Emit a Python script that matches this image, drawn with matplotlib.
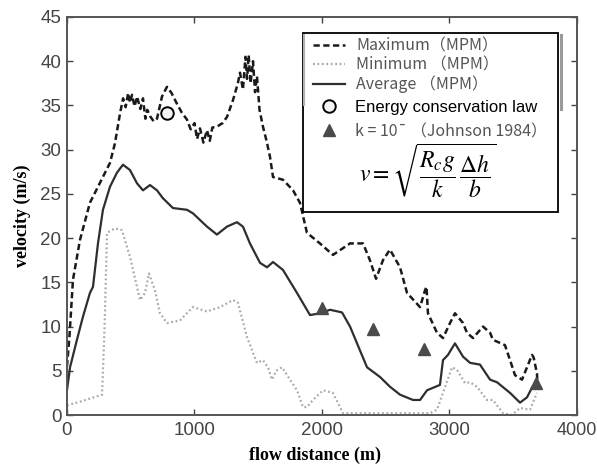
import matplotlib
matplotlib.use("Agg")
import matplotlib.pyplot as plt
from matplotlib.lines import Line2D
from matplotlib.patches import Rectangle

plt.rcParams['mathtext.fontset'] = 'stix'

# Maximum (MPM) - dashed
max_x = [0, 20, 47, 102, 180, 250, 337, 376, 416, 440, 460, 480, 494, 510, 530, 550, 575, 596,
         615, 630, 651, 680, 706, 745, 784, 820, 862, 900, 941, 970, 1000, 1020, 1043, 1070,
         1098, 1120, 1140, 1176, 1220, 1255, 1302, 1340, 1357, 1380, 1400, 1412, 1425, 1440,
         1459, 1475, 1490, 1510, 1537, 1565, 1592, 1616, 1694, 1773, 1827, 1882, 1984, 2086,
         2220, 2322, 2376, 2424, 2478, 2533, 2612, 2667, 2769, 2808, 2820, 2831, 2902, 2949,
         3004, 3043, 3106, 3137, 3184, 3263, 3318, 3341, 3435, 3475, 3514, 3569, 3608, 3647,
         3660, 3686, 3690]
max_v = [5.5, 9, 15.3, 19.8, 24, 26, 28.5, 30.7, 34.1, 35.8, 34.8, 36.4, 35.3, 36.2, 34.9, 36,
         34.6, 35.8, 33.5, 34.5, 33.8, 33.2, 33.5, 36, 37.1, 36.4, 35.2, 34.2, 33.4, 32.3, 33,
         31.2, 32.4, 30.8, 32.2, 31, 32.5, 32.6, 33, 33.7, 35.6, 37.5, 38.7, 36.8, 40.5, 38,
         40.7, 37.5, 40, 36.5, 38.3, 34.5, 32.6, 31, 29.2, 26.9, 26.6, 25.4, 24, 20.6, 19.4,
         18.1, 19.4, 19.4, 17.5, 15.4, 17.5, 18.7, 16.7, 13.8, 12.2, 14.1, 14.5, 11.5, 9.3,
         8.7, 10.4, 11.5, 10.4, 9.3, 8.7, 10, 9.3, 8.5, 7.9, 6.2, 4.5, 4.0, 5.4, 6.8, 6.5,
         4.7, 3.5]

# Minimum (MPM) - dotted
min_x = [0, 102, 275, 295, 314, 376, 431, 494, 573, 612, 643, 690, 729, 784, 886, 988, 1098,
         1200, 1302, 1341, 1412, 1490, 1537, 1576, 1608, 1640, 1686, 1749, 1804, 1851, 1882,
         1929, 2008, 2086, 2165, 2500, 2847, 2902, 2949, 3020, 3059, 3122, 3161, 3216, 3294,
         3341, 3420, 3490, 3553, 3631, 3686]
min_v = [1.1, 1.5, 2.3, 10, 20.6, 21.1, 20.9, 17.9, 13, 13.8, 16.0, 14.1, 11.5, 10.4, 10.7,
         12.2, 11.7, 12.2, 13, 12.7, 8.8, 5.9, 6.2, 5.4, 4.0, 5.0, 5.4, 4.0, 2.8, 0.9, 0.9,
         1.7, 2.8, 2.5, 0.2, 0.2, 0.2, 0.6, 2.5, 5.4, 5.1, 3.6, 3.7, 3.2, 1.7, 1.7, 0.2, 0.0,
         0.8, 0.6, 2.5]

# Average (MPM) - solid
avg_x = [0, 24, 78, 125, 180, 204, 243, 282, 337, 392, 439, 494, 549, 596, 651, 706, 753, 831,
         941, 988, 1098, 1176, 1255, 1333, 1380, 1435, 1514, 1569, 1616, 1694, 1804, 1906,
         1984, 2063, 2157, 2220, 2298, 2353, 2455, 2533, 2612, 2714, 2769, 2824, 2925, 2949,
         2988, 3043, 3106, 3161, 3239, 3318, 3373, 3475, 3553, 3608, 3647, 3686]
avg_v = [2.8, 5.4, 8.5, 11.1, 13.8, 14.5, 19.4, 23.2, 25.8, 27.4, 28.3, 27.7, 26.2, 25.4, 26,
         25.4, 24.5, 23.4, 23.2, 22.8, 21.3, 20.4, 21.3, 21.8, 21.3, 19.4, 17.2, 16.7, 17.3,
         16.4, 13.8, 11.3, 11.5, 11.9, 11.6, 10.0, 7.3, 5.4, 4.3, 3.2, 2.3, 1.7, 1.7, 2.8, 3.4,
         6.2, 6.8, 8.1, 6.6, 5.9, 5.7, 4.0, 3.7, 2.5, 1.4, 2.0, 3.1, 3.6]

# Energy conservation law
energy_x = [784]
energy_v = [34.1]

# k = 10^- (Johnson 1984)
johnson_x = [2000, 2400, 2800, 3680]
johnson_v = [12.1, 9.7, 7.5, 3.6]

fig = plt.figure(figsize=(5.97, 4.69), dpi=100)
ax = fig.add_axes([0.1122, 0.1151, 0.8543, 0.8487])

ax.plot(max_x, max_v, color='#1a1a1a', lw=1.8, ls=(0, (2.5, 1.4)))
ax.plot(min_x, min_v, color='#a8a8a8', lw=1.6, ls=(0, (0.8, 1.2)))
ax.plot(avg_x, avg_v, color='#2e2e2e', lw=1.6)
ax.plot(energy_x, energy_v, ls='none', marker='o', ms=9, mfc='#f4f4f4', mec='black', mew=1.4)
ax.plot(johnson_x, johnson_v, ls='none', marker='^', ms=8, color='#4a4a4a')

ax.set_xlim(0, 4000)
ax.set_ylim(0, 45)
ax.set_xticks([0, 1000, 2000, 3000, 4000])
ax.set_yticks(range(0, 46, 5))
ax.tick_params(direction='in', length=4, width=1, top=True, right=True,
               colors='#444444', labelsize=13.5)
ax.tick_params(axis='x', pad=5)
ax.tick_params(axis='y', pad=4)
for lab in ax.get_xticklabels() + ax.get_yticklabels():
    lab.set_fontfamily('Liberation Sans')
ax.get_xticklabels()[-1].set_fontsize(13)
for sp in ax.spines.values():
    sp.set_color('#555555')
    sp.set_linewidth(1.4)

ax.set_xlabel('flow distance (m)', family='Liberation Serif', fontweight='bold', fontsize=13)
ax.set_ylabel('velocity (m/s)', family='Liberation Serif', fontweight='bold', fontsize=13)
ax.xaxis.set_label_coords(0.486, -0.08)
ax.yaxis.set_label_coords(-0.07, 0.5)

# legend frame
ax.add_patch(Rectangle((0.463, 0.51), 0.50, 0.45, transform=ax.transAxes,
                       fill=True, facecolor='white', edgecolor='black', lw=1.3, zorder=4))
ax.plot([0.968, 0.968], [0.77, 0.955], transform=ax.transAxes, color='#9a9a9a', lw=2.2, zorder=4)
ax.plot([0.465, 0.465], [0.78, 0.955], transform=ax.transAxes, color='#b0b0b0', lw=1.5, zorder=4)

cjk = ['Noto Sans CJK JP', 'DejaVu Sans']
h1 = [Line2D([], [], color='#1a1a1a', lw=1.8, ls=(0, (2.5, 1.4))),
      Line2D([], [], color='#a8a8a8', lw=1.6, ls=(0, (0.8, 1.2))),
      Line2D([], [], color='#2e2e2e', lw=1.6)]
leg1 = ax.legend(h1, ['Maximum（MPM）', 'Minimum （MPM）', 'Average （MPM）'],
                 loc='upper left', bbox_to_anchor=(0.482, 0.948), frameon=False,
                 borderpad=0, borderaxespad=0, handlelength=2.0, handletextpad=0.7,
                 labelspacing=0.12, prop={'family': cjk, 'size': 11.5})
for t in leg1.get_texts():
    t.set_color('#555555')
leg1.set_zorder(5)
ax.add_artist(leg1)

h2 = [Line2D([], [], ls='none', marker='o', ms=9, mfc='#f4f4f4', mec='black', mew=1.4),
      Line2D([], [], ls='none', marker='^', ms=8, color='#4a4a4a')]
leg2 = ax.legend(h2, ['Energy conservation law', 'k = 10¯ （Johnson 1984）'],
                 loc='upper left', bbox_to_anchor=(0.482, 0.792), frameon=False,
                 borderpad=0, borderaxespad=0, handlelength=2.0, handletextpad=0.55,
                 labelspacing=0.5, prop={'family': 'Liberation Sans', 'size': 12})
leg2.get_texts()[1].set_fontfamily(cjk)
leg2.get_texts()[1].set_fontsize(11.5)
leg2.get_texts()[1].set_color('#555555')
leg2.set_zorder(5)

ax.text(0.708, 0.612, r'$v=\sqrt{\dfrac{R_c g}{k}\,\dfrac{\Delta h}{b}}$', transform=ax.transAxes,
        ha='center', va='center', fontsize=17, zorder=6)

fig.savefig('out.png', dpi=100)
